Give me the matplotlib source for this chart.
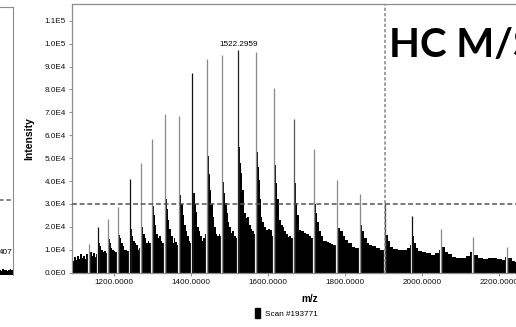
import matplotlib
matplotlib.use("Agg")
import matplotlib.pyplot as plt
from matplotlib.patches import Patch
from matplotlib.ticker import FuncFormatter

plt.rcParams['font.family'] = ['Liberation Sans', 'DejaVu Sans']

# envelope of the spectrum (m/z, intensity in 1e4 counts)
env_mz = [1090, 1094, 1098, 1102, 1106, 1110, 1113, 1117, 1121, 1125, 1129,
          1136, 1139, 1143, 1147, 1151, 1155,
          1160, 1164, 1168, 1172, 1176, 1180,
          1186, 1189, 1193, 1197, 1200.5, 1204, 1208,
          1212, 1216, 1220, 1224, 1228, 1232, 1236,
          1241, 1243, 1247, 1251, 1255, 1259, 1263, 1267,
          1271, 1273, 1277, 1281, 1285, 1289, 1293, 1297,
          1300.5, 1303, 1307, 1311, 1315, 1319, 1323, 1326.5, 1330,
          1334, 1337, 1341, 1345, 1349, 1353, 1356, 1360, 1364,
          1369, 1372, 1376, 1380, 1384, 1388, 1391, 1395, 1399,
          1404, 1407, 1410, 1414, 1417, 1421, 1425, 1429, 1433, 1437,
          1443, 1446, 1450, 1454, 1458, 1461.5, 1465, 1469, 1473, 1477,
          1483, 1486, 1489, 1494, 1496, 1500.5, 1505, 1508, 1513, 1517,
          1524.6, 1527, 1531, 1534, 1539.5, 1543, 1548, 1552, 1557, 1560, 1564,
          1570.6, 1573, 1576, 1580, 1583, 1586, 1591, 1596.5, 1601.7, 1607, 1611,
          1617, 1622, 1625, 1630, 1635.5, 1639, 1643, 1648.6, 1652, 1656, 1661.6,
          1668.5, 1673.7, 1677, 1682, 1687.7, 1695, 1700.5, 1708, 1713, 1717,
          1722, 1725, 1729, 1734, 1739, 1747, 1755, 1760, 1765, 1773,
          1782.8, 1790.6, 1796.5, 1803.5, 1812, 1820.7, 1827.7,
          1840.7, 1846, 1851, 1859, 1864, 1874.6, 1885, 1895,
          1909, 1913.4, 1920.4, 1929, 1942, 1955, 1963, 1970,
          1976.5, 1981, 1985, 1994, 2002.5, 2014.7, 2028.5, 2038, 2046,
          2054.4, 2063, 2071.8, 2080.4, 2092.6, 2106.4, 2118.6, 2128,
          2137, 2150, 2163, 2176, 2184.5, 2202, 2210.5, 2217,
          2227.6, 2235.4, 2243.2]
env_int = [0.65, 0.5, 0.7, 0.55, 0.75, 0.6, 0.8, 0.65, 0.75, 0.6, 0.8,
           1.05, 0.9, 0.75, 0.85, 0.7, 0.8,
           1.3, 1.15, 1.0, 0.9, 0.95, 0.85,
           1.45, 1.3, 1.1, 1.0, 0.95, 0.9, 0.85,
           1.65, 1.5, 1.3, 1.15, 1.0, 1.0, 0.95,
           2.1, 1.9, 1.6, 1.4, 1.3, 1.2, 1.0, 1.1,
           2.3, 2.0, 1.7, 1.5, 1.3, 1.4, 1.3, 1.2,
           2.9, 2.5, 2.1, 1.7, 1.5, 1.6, 1.4, 1.3, 1.4,
           3.2, 2.8, 2.3, 1.9, 1.6, 1.3, 1.5, 1.35, 1.2,
           3.8, 3.4, 3.0, 2.5, 2.1, 1.8, 1.6, 1.4, 1.3,
           4.05, 3.5, 3.0, 2.66, 2.0, 1.8, 1.6, 1.4, 1.5, 1.7,
           5.1, 4.3, 3.6, 3.0, 2.45, 2.0, 1.7, 1.6, 1.7, 1.6,
           3.97, 3.5, 3.03, 2.6, 2.23, 2.0, 1.73, 1.8, 1.6, 1.5,
           5.47, 4.8, 4.34, 3.6, 2.6, 2.4, 2.45, 2.1, 1.9, 1.8, 1.7,
           5.26, 4.6, 4.05, 3.2, 2.45, 2.2, 2.0, 1.86, 1.9, 1.86, 1.6,
           4.7, 3.9, 3.2, 2.3, 2.1, 2.0, 1.8, 1.7, 1.57, 1.6, 1.5,
           3.9, 3.03, 2.5, 1.86, 1.8, 1.73, 1.7, 1.6, 1.5, 1.55,
           3.0, 2.6, 2.2, 1.8, 1.6, 1.4, 1.35, 1.28, 1.25, 1.2,
           1.94, 1.8, 1.6, 1.43, 1.3, 1.14, 1.1,
           2.08, 1.8, 1.5, 1.3, 1.2, 1.15, 1.06, 1.0,
           1.65, 1.4, 1.14, 1.05, 0.99, 1.0, 1.06, 1.2,
           1.6, 1.3, 1.06, 0.95, 0.92, 0.85, 0.77, 0.85, 1.0,
           1.14, 0.92, 0.8, 0.7, 0.65, 0.63, 0.75, 0.92,
           0.77, 0.63, 0.6, 0.65, 0.63, 0.58, 0.55, 0.7,
           0.63, 0.5, 0.48]

# charge-state peaks (m/z, intensity in 1e4 counts, shade)
peak_mz = [1133.5, 1158.4, 1183.6, 1210.4, 1239.7, 1268.6, 1298.7, 1331.7,
           1367.3, 1402.6, 1440.8, 1480.5, 1522.2959, 1567.2, 1614.7, 1666.0,
           1719.4, 1777.6, 1838.0, 1903.0, 1974.0, 2049.4, 2131.5, 2220.0]
peak_int = [1.25, 1.98, 2.35, 2.88, 4.09, 4.78, 5.82, 6.93,
            6.84, 8.71, 9.32, 9.52, 9.72, 9.62, 8.05, 6.71,
            5.40, 4.05, 3.42, 3.03, 2.48, 1.92, 1.55, 1.11]
peak_shade = ['#8a8a8a', '#111111', '#8a8a8a', '#8a8a8a', '#111111', '#8a8a8a', '#8a8a8a', '#8a8a8a',
              '#8a8a8a', '#111111', '#8a8a8a', '#8a8a8a', '#222222', '#8a8a8a', '#8a8a8a', '#555555',
              '#8a8a8a', '#8a8a8a', '#8a8a8a', '#333333', '#111111', '#8a8a8a', '#8a8a8a', '#8a8a8a']
label_peak = 1522.2959
threshold = 3.0e4
marker_mz = 1902.3
scan_name = 'Scan #193771'

# the cut-off neighbouring panel on the left
frag_mz = [2110, 2125, 2140, 2155, 2170, 2185, 2200, 2215, 2230, 2243]
frag_int = [0.22, 0.18, 0.25, 0.2, 0.24, 0.19, 0.23, 0.26, 0.21, 0.2]
frag_threshold = 3.3e4

W, H = 516, 327
fig = plt.figure(figsize=(W / 100, H / 100), dpi=100)

spine_c = '#8c8c8c'

# left fragment
fa = fig.add_axes([-0.2, 1 - 275 / H, 0.2 + 13.3 / W, (275 - 6.7) / H])
fa.fill_between(frag_mz, 0, [v * 1e4 for v in frag_int], color='black', lw=0, step='mid')
fa.axhline(frag_threshold, color='#666666', lw=1.1, ls=(0, (3, 1.8)))
fa.text(2241, 1.0e4, '407', ha='right', va='center', fontsize=5.9)
fa.set_xlim(1090, 2243)
fa.set_ylim(0, 1.173e5)
fa.set_xticks([])
fa.set_yticks([])
for s in ['left', 'bottom']:
    fa.spines[s].set_visible(False)
for s in ['right', 'top']:
    fa.spines[s].set_color(spine_c)

# main spectrum
ax = fig.add_axes([72 / W, 1 - 272.7 / H, 1 - 72 / W, (272.7 - 4) / H])
ax.fill_between(env_mz, 0, [v * 1e4 for v in env_int], color='black', lw=0,
                step='mid', zorder=1)
ax.vlines(peak_mz, 0, [v * 1e4 for v in peak_int], color='white', lw=1.6, zorder=2)
ax.vlines(peak_mz, 0, [v * 1e4 for v in peak_int], colors=peak_shade, lw=0.9, zorder=3)

ax.axhline(threshold, color='#555555', lw=1.1, ls=(0, (3.2, 1.8)), zorder=4)
ax.axvline(marker_mz, color='#888888', lw=1.1, ls=(0, (2.2, 1.3)), zorder=4)

ax.annotate('%.4f' % label_peak, (label_peak, peak_int[peak_mz.index(label_peak)] * 1e4),
            xytext=(0, 1.5), textcoords='offset points', ha='center', va='bottom',
            fontsize=5.9)

ax.set_xlim(1090, 2243)
ax.set_ylim(0, 1.173e5)
ax.set_xticks([1200, 1400, 1600, 1800, 2000, 2200])
ax.set_yticks([i * 1e4 for i in range(12)])
ax.xaxis.set_major_formatter(FuncFormatter(lambda v, p: '%.4f' % v))


def sci(v, p):
    if v == 0:
        return '0.0E0'
    e = len(str(int(round(v)))) - 1
    return '%.1fE%d' % (v / 10 ** e, e)


ax.yaxis.set_major_formatter(FuncFormatter(sci))
ax.tick_params(labelsize=5.9, length=2.5, width=0.7, color=spine_c, pad=2, labelcolor='#111111')
ax.spines['right'].set_visible(False)
for s in ['left', 'top', 'bottom']:
    ax.spines[s].set_color(spine_c)
    ax.spines[s].set_linewidth(0.9)

ax.set_xlabel('m/z', fontsize=7.2, fontweight='bold', labelpad=3)
ax.set_ylabel('Intensity', fontsize=7.5, fontweight='bold', labelpad=4)
ax.xaxis.set_label_coords((310 - 72) / (W - 72), -(294 - 272.7) / (272.7 - 4))
ax.yaxis.set_label_coords(-(72 - 34) / (W - 72), 0.5)

fig.legend(handles=[Patch(facecolor='black', edgecolor='black', label=scan_name)],
           loc='center left', bbox_to_anchor=(255 / W, 1 - 313 / H), frameon=False,
           fontsize=5.9, handlelength=0.55, handleheight=1.5, handletextpad=0.7,
           borderpad=0, borderaxespad=0)

fig.text(389 / W, 1 - 57.3 / H, 'HC M/S', fontfamily='Lato', fontweight='bold',
         fontsize=29, va='baseline', ha='left')

fig.savefig('out.png', dpi=100)
